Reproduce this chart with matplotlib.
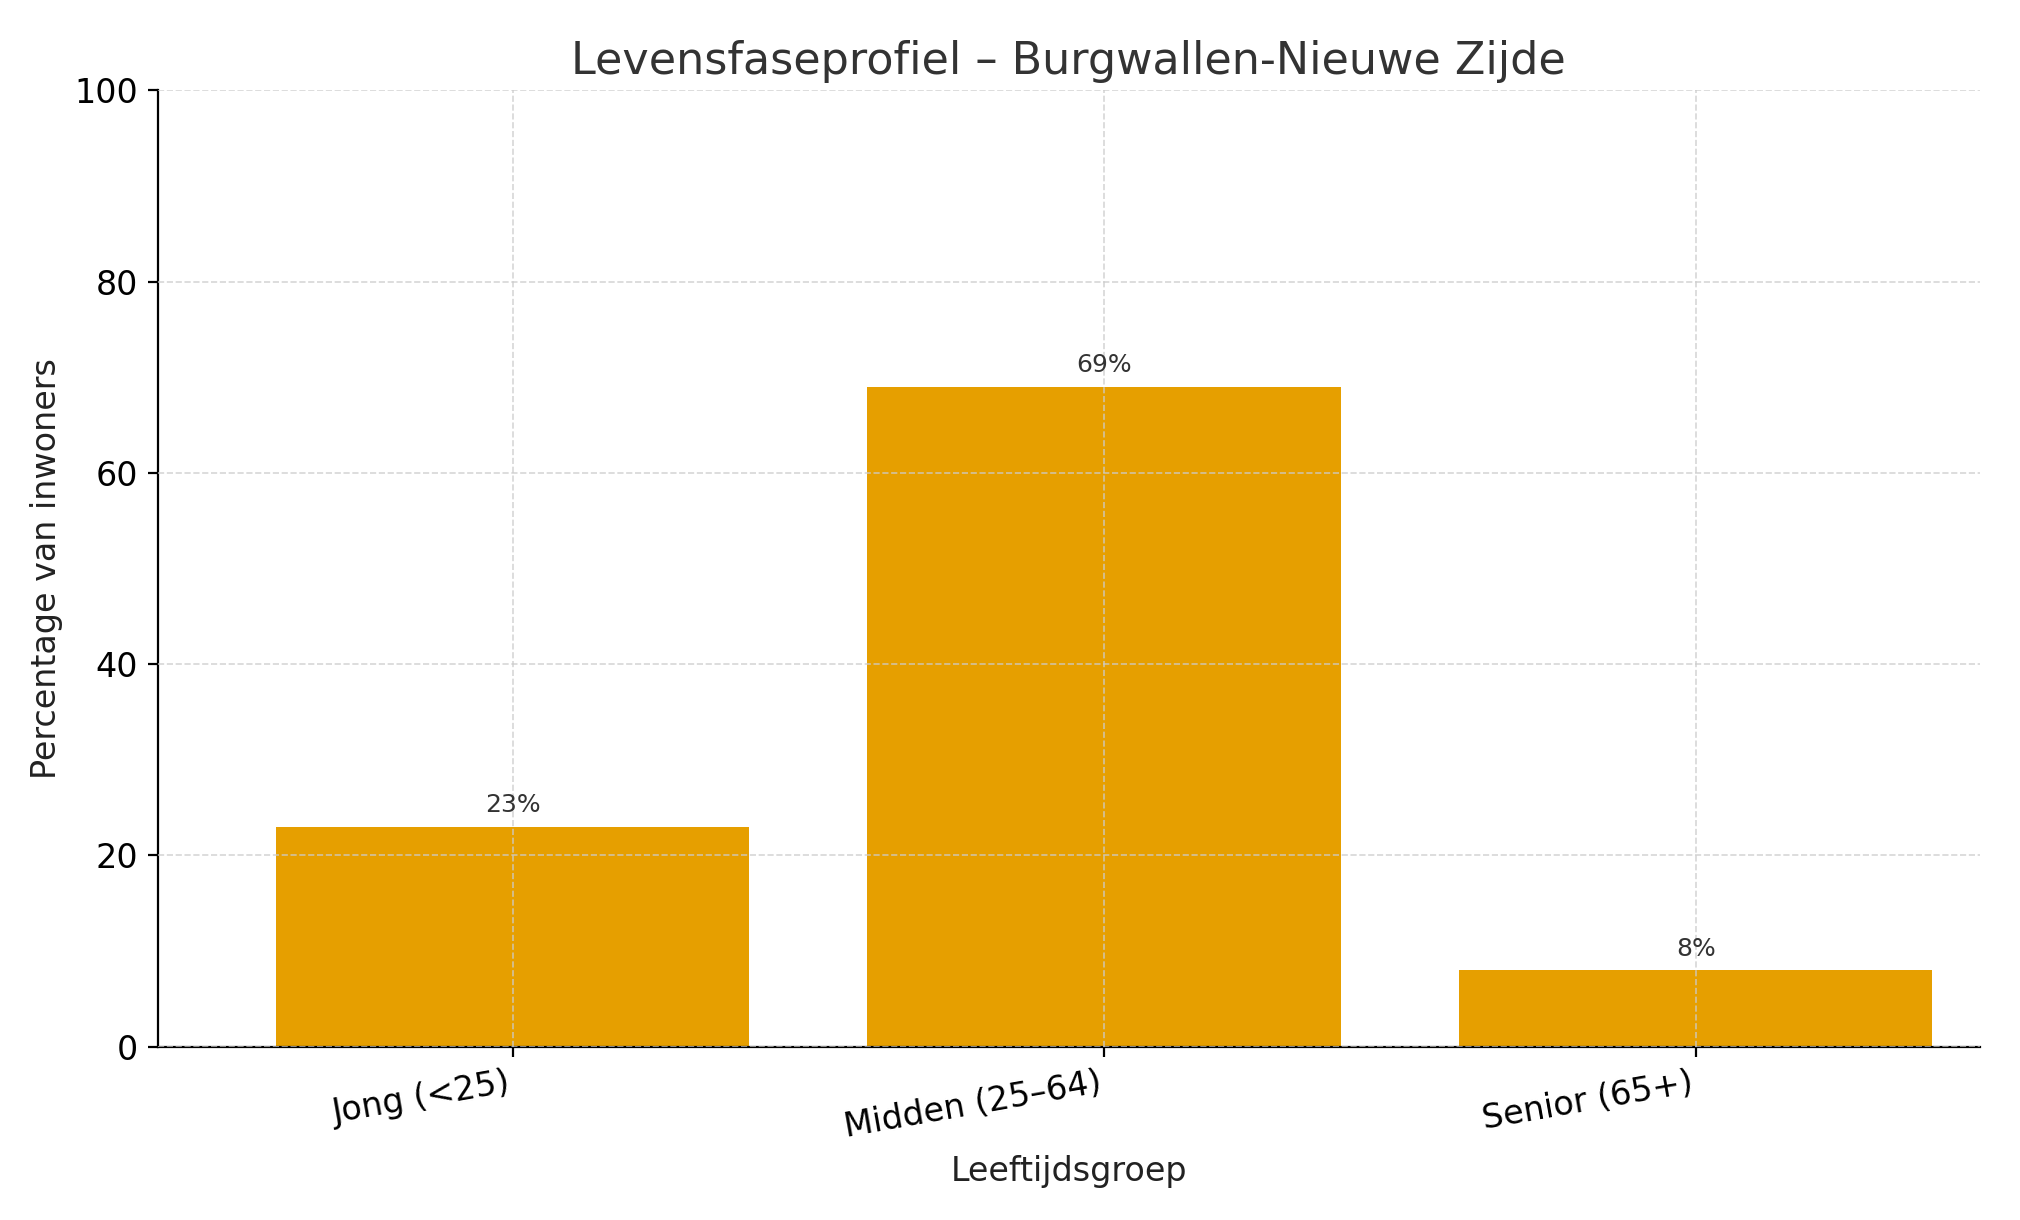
import matplotlib.pyplot as plt

categories = ["Jong (<25)", "Midden (25–64)", "Senior (65+)"]
values = [23, 69, 8]

fig = plt.figure(figsize=(10.1, 6.1), dpi=200)
ax = fig.add_axes([0.078, 0.142, 0.902, 0.784])

bars = ax.bar(categories, values, color="#E69F00", width=0.8, zorder=2)
for b, v in zip(bars, values):
    ax.text(b.get_x() + b.get_width() / 2, v + 1, f"{v}%", ha="center", va="bottom",
            fontsize=9, color="#333333")

ax.set_ylim(0, 100)
ax.set_xlim(-0.6, 2.48)
ax.grid(True, linestyle="--", color="#cccccc", linewidth=0.6, alpha=0.8, zorder=3)
ax.set_axisbelow(False)
for s in ["top", "right"]:
    ax.spines[s].set_visible(False)

ax.set_title("Levensfaseprofiel – Burgwallen-Nieuwe Zijde", fontsize=16, color="#333333")
ax.set_xlabel("Leeftijdsgroep", fontsize=12, color="#222222")
ax.set_ylabel("Percentage van inwoners", fontsize=12, color="#222222")
ax.tick_params(axis="both", labelsize=12)
plt.setp(ax.get_xticklabels(), rotation=10, ha="right")

fig.savefig("out.png", dpi=200)
